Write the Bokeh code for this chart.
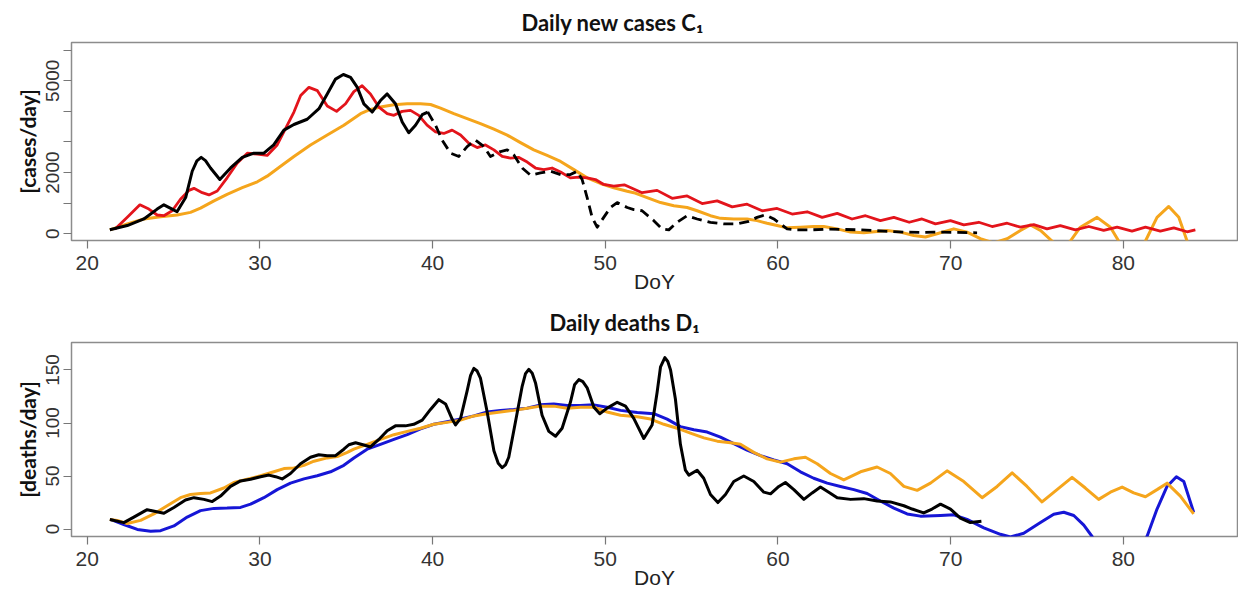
from bokeh.plotting import figure
from bokeh.models import Range1d, FixedTicker, Title
from bokeh.layouts import column
from bokeh.embed import file_html
from bokeh.resources import INLINE

# ---------------- Daily new cases C1 ----------------
cases_obs_doy = [21.31, 22.32, 23.28, 24.05, 24.44, 24.92, 25.2, 25.7, 26.08, 26.35, 26.6, 26.85,
                 27.14, 27.68, 28.3, 28.98, 29.65, 30.23, 30.8, 31.39, 31.97, 32.74, 33.42, 33.9,
                 34.38, 34.83, 35.25, 35.64, 36.02, 36.5, 36.98, 37.37, 37.85, 38.24, 38.62, 39.01,
                 39.4, 39.72]
cases_obs = [129, 269, 484, 806, 946, 806, 720, 1183, 2043, 2380, 2495, 2390,
             2150, 1774, 2150, 2495, 2634, 2634, 2903, 3387, 3570, 3742, 4086, 4570,
             5054, 5204, 5108, 4785, 4246, 3977, 4354, 4569, 4246, 3655, 3300, 3547,
             3891, 3977]

cases_late_doy = [39.72, 40.17, 40.55, 41.04, 41.52, 42.0, 42.48, 42.97, 43.35, 43.93, 44.32, 44.7,
                  45.19, 45.67, 46.25, 46.83, 47.41, 47.98, 48.37, 48.66, 48.95, 49.24, 49.53, 49.91,
                  50.3, 50.69, 51.27, 51.65, 52.13, 52.81, 53.29, 53.68, 54.16, 54.74, 55.32, 56.09,
                  56.86, 57.64, 58.31, 58.79, 59.28, 59.76, 60.14, 60.53, 61.11, 61.88, 62.85, 63.81,
                  64.78, 65.55, 66.32, 67.29, 68.25, 69.02, 70.2, 71.53]
cases_late = [3977, 3547, 3063, 2633, 2526, 2848, 3063, 2848, 2526, 2687, 2741, 2580,
              2149, 1913, 1988, 2042, 1934, 1934, 2042, 1773, 1181, 536, 214, 536,
              859, 1020, 859, 790, 752, 429, 160, 128, 375, 590, 483, 375,
              321, 321, 407, 536, 622, 483, 321, 160, 128, 128, 150, 140,
              128, 107, 75, 54, 43, 54, 45, 32]

cases_red_doy = [21.6, 22.32, 23.05, 23.57, 24.05, 24.44, 24.92, 25.4, 25.89, 26.18, 26.66, 27.05,
                 27.53, 28.1, 28.69, 29.27, 29.85, 30.42, 31.0, 31.49, 31.97, 32.36, 32.84, 33.33,
                 33.9, 34.44, 34.96, 35.44, 35.92, 36.4, 36.89, 37.37, 37.76, 38.24, 38.72, 39.2,
                 39.68, 40.17, 40.65, 41.13, 41.62, 42.1, 42.58, 43.06, 43.55, 44.03, 44.51, 45.0,
                 45.48, 45.96, 46.44, 46.92, 47.41, 47.98, 48.47, 48.95, 49.43, 49.91, 50.49, 51.1,
                 52.13, 53.0, 53.87, 54.74, 55.61, 56.48, 57.35, 58.21, 59.08, 59.95, 60.82, 61.69,
                 62.56, 63.43, 64.29, 65.07, 65.93, 66.71, 67.6, 68.34, 69.12, 69.99, 70.76, 71.63,
                 72.4, 73.27, 74.04, 74.81, 75.58, 76.35, 77.22, 78.0, 78.86, 79.64, 80.5, 81.28,
                 82.14, 82.92, 83.69, 84.17]
cases_red = [150, 538, 946, 806, 613, 591, 753, 1129, 1419, 1484, 1344, 1269,
             1398, 1828, 2312, 2634, 2602, 2559, 2903, 3441, 3978, 4516, 4785, 4677,
             4172, 4000, 4247, 4645, 4838, 4569, 4139, 3924, 3870, 3999, 4031, 3870,
             3547, 3332, 3278, 3386, 3225, 2956, 2816, 2902, 2741, 2526, 2472, 2493,
             2343, 2149, 2096, 2149, 2020, 1827, 1850, 1827, 1773, 1612, 1558, 1600,
             1343, 1418, 1160, 1235, 988, 1074, 880, 966, 751, 827, 644, 719,
             537, 665, 483, 590, 429, 537, 376, 484, 323, 430, 290, 376,
             237, 344, 215, 301, 161, 269, 129, 237, 108, 215, 86, 215,
             86, 194, 65, 129]

cases_orange_doy = [21.31, 22.32, 23.28, 24.25, 25.21, 25.98, 26.56, 27.34, 28.1, 28.98, 29.85, 30.42,
                    31.2, 31.97, 32.93, 33.9, 34.86, 35.83, 36.4, 36.98, 37.76, 38.53, 39.3, 39.88,
                    40.46, 41.23, 42.0, 42.77, 43.55, 44.32, 45.09, 45.86, 46.63, 47.41, 48.18, 48.95,
                    49.72, 50.49, 51.27, 51.65, 52.42, 53.2, 53.97, 54.74, 55.32, 56.09, 56.67, 57.44,
                    58.21, 58.79, 59.37, 59.95, 60.53, 61.3, 62.07, 62.65, 63.43, 64.2, 64.97, 65.74,
                    66.32, 67.09, 67.86, 68.54, 69.21, 70.18, 70.95, 71.72, 72.49, 73.27, 74.04, 74.62,
                    75.2, 75.87, 76.4, 76.93, 77.51, 78.48, 79.25, 79.73, 80.5, 81.28, 81.95, 82.63,
                    83.21, 83.69, 84.17]
cases_orange = [129, 323, 484, 559, 613, 699, 839, 1075, 1290, 1505, 1699, 1882,
                2204, 2527, 2903, 3226, 3548, 3924, 4063, 4139, 4214, 4246, 4246, 4225,
                4106, 3924, 3762, 3601, 3418, 3225, 2977, 2741, 2558, 2364, 2096, 1827,
                1644, 1504, 1390, 1343, 1181, 1020, 913, 859, 752, 590, 504, 483,
                483, 429, 343, 268, 193, 214, 236, 236, 160, 54, 32, 75,
                107, 54, -54, -107, 0, 160, 54, -161, -300, -161, 108, 290,
                108, -237, -550, -237, 215, 537, 215, -237, -850, -237, 537, 892,
                537, -237, -900]

# ---------------- Daily deaths D1 ----------------
deaths_obs_doy = [21.31, 22.12, 22.7, 23.47, 23.96, 24.44, 25.02, 25.69, 26.18, 26.76, 27.24, 27.72,
                  28.3, 28.88, 29.46, 30.04, 30.52, 30.91, 31.29, 31.77, 32.35, 32.93, 33.41, 33.9,
                  34.38, 34.86, 35.15, 35.54, 36.02, 36.4, 36.89, 37.37, 37.85, 38.43, 38.91, 39.4,
                  39.88, 40.36, 40.75, 41.13, 41.33, 41.62, 42.0, 42.2, 42.39, 42.58, 42.77, 43.16,
                  43.55, 43.8, 44.03, 44.22, 44.41, 44.8, 45.19, 45.38, 45.57, 45.77, 45.96, 46.34,
                  46.73, 47.12, 47.5, 47.98, 48.22, 48.47, 48.7, 48.95, 49.34, 49.68, 50.11, 50.69,
                  51.17, 51.65, 52.23, 52.71, 53.0, 53.2, 53.45, 53.62, 53.78, 54.06, 54.35, 54.64,
                  54.84, 55.32, 55.7, 56.09, 56.52, 56.96, 57.44, 58.02, 58.6, 59.18, 59.57, 60.05,
                  60.43, 60.92, 61.5, 61.98, 62.46, 62.94, 63.43, 64.2, 64.97, 65.74, 66.51, 67.29,
                  67.77, 68.44, 68.92, 69.41, 69.99, 70.56, 71.14, 71.78]
deaths_obs = [9.1, 6.1, 11.3, 18.3, 16.5, 14.9, 20.4, 27.4, 29.6, 28.0, 25.9, 31.1,
              40.2, 45.4, 47.0, 49.4, 50.9, 49.4, 47.3, 52.4, 61.6, 67.7, 70.1, 69.2,
              69.2, 75.3, 79.5, 81.4, 79.3, 77.4, 84.5, 92.7, 97.3, 97.3, 98.8, 102.7,
              112.8, 122.0, 118.0, 103.7, 98.2, 104.3, 130.2, 145.0, 151.5, 149.0, 142.4, 110.4,
              73.8, 62.0, 57.9, 60.5, 67.7, 101.2, 134.8, 146.5, 150.6, 147.0, 137.8, 107.3,
              92.1, 87.5, 95.1, 119.5, 136.0, 140.9, 139.0, 133.2, 114.9, 108.8, 114.0, 119.5,
              115.9, 104.3, 85.4, 98.2, 128.7, 153.0, 161.6, 158.0, 150.0, 122.6, 79.9, 55.5,
              50.9, 55.5, 47.9, 32.6, 25.0, 32.6, 44.8, 50.0, 44.8, 34.8, 33.2, 40.2,
              43.9, 37.2, 28.0, 34.1, 39.6, 34.8, 29.6, 28.0, 28.7, 26.5, 25.6, 22.0,
              18.9, 15.2, 18.9, 23.5, 18.9, 10.4, 6.1, 7.3]

deaths_orange_doy = [21.31, 21.74, 22.32, 23.09, 23.86, 24.63, 25.4, 25.98, 26.56, 27.14, 27.91, 28.49,
                     29.27, 30.04, 30.81, 31.39, 31.97, 32.55, 33.13, 33.9, 34.48, 35.06, 35.44, 36.21,
                     36.98, 37.76, 38.53, 39.3, 40.07, 40.84, 41.62, 42.39, 43.16, 43.93, 44.7, 45.48,
                     46.25, 47.02, 47.79, 48.56, 49.34, 50.11, 50.88, 51.85, 52.62, 53.39, 54.16, 54.93,
                     55.71, 56.48, 57.25, 57.83, 58.6, 59.37, 60.14, 60.92, 61.59, 62.27, 63.04, 63.81,
                     64.78, 65.74, 66.51, 67.29, 68.06, 68.83, 69.79, 70.76, 71.82, 72.69, 73.56, 74.42,
                     75.29, 76.16, 77.03, 77.8, 78.57, 79.25, 79.93, 80.6, 81.28, 81.95, 82.53, 83.3,
                     84.07]
deaths_orange = [9.1, 8.2, 5.2, 8.2, 14.3, 22.0, 29.6, 32.6, 33.5, 34.1, 38.7, 43.9,
                 47.0, 50.3, 54.0, 57.0, 57.6, 60.1, 64.0, 67.1, 68.3, 72.3, 75.3, 79.9,
                 84.5, 89.0, 92.1, 95.1, 98.8, 100.6, 102.7, 106.7, 108.8, 110.4, 111.9, 114.0,
                 115.9, 115.9, 114.0, 114.9, 114.9, 110.4, 107.3, 105.8, 103.7, 98.8, 95.1, 90.5,
                 86.0, 82.9, 81.4, 79.9, 72.3, 66.2, 63.1, 66.2, 67.7, 61.6, 52.4, 46.3,
                 54.0, 58.5, 52.4, 40.2, 36.5, 43.3, 54.9, 44.8, 29.6, 40.2, 53.0, 40.2,
                 25.6, 37.2, 48.8, 38.7, 28.0, 34.8, 39.6, 34.1, 30.5, 37.2, 43.3, 31.1,
                 14.3]

deaths_blue_doy = [21.35, 22.12, 22.9, 23.67, 24.25, 25.02, 25.79, 26.56, 27.34, 28.1, 28.88, 29.46,
                   30.23, 31.0, 31.77, 32.55, 33.32, 34.09, 34.86, 35.44, 36.21, 36.98, 37.76, 38.53,
                   39.3, 40.07, 40.84, 41.62, 42.39, 43.16, 43.93, 44.7, 45.48, 46.25, 47.02, 47.79,
                   48.56, 49.34, 50.11, 50.88, 51.85, 52.81, 53.58, 54.35, 55.13, 55.9, 56.67, 57.44,
                   58.21, 58.99, 59.76, 60.53, 61.3, 62.07, 62.85, 63.62, 64.39, 65.16, 65.93, 66.71,
                   67.48, 68.25, 69.41, 70.18, 70.95, 71.92, 72.88, 73.46, 74.23, 75.2, 75.97, 76.55,
                   77.13, 77.71, 78.19, 78.8, 79.8, 80.8, 81.37, 81.95, 82.53, 83.07, 83.5, 84.07]
deaths_blue = [9.1, 4.3, -0.3, -2.1, -1.5, 3.0, 11.3, 17.4, 19.5, 19.8, 20.4, 23.5,
               29.6, 37.2, 43.3, 47.3, 50.3, 54.0, 60.1, 67.0, 75.3, 79.9, 84.5, 89.0,
               94.5, 98.8, 101.2, 103.7, 106.7, 110.4, 111.9, 112.8, 114.0, 117.1, 118.0, 116.5,
               116.5, 117.1, 114.9, 111.9, 109.8, 108.8, 103.7, 96.6, 93.6, 91.5, 86.6, 80.5,
               74.4, 69.2, 65.2, 61.6, 54.0, 47.9, 43.3, 40.2, 37.2, 33.5, 26.5, 19.8,
               14.3, 12.2, 12.8, 13.4, 9.1, 1.2, -4.9, -7.5, -4.0, 6.1, 14.0, 15.9,
               12.8, 3.7, -7.0, -25.0, -40.0, -25.0, -7.0, 18.9, 40.2, 49.4, 44.8, 15.9]

x_ticks = [20, 30, 40, 50, 60, 70, 80]
cases_ticks = [0, 1000, 2000, 3000, 4000, 5000, 6000]
cases_tick_labels = {1000: "", 3000: "", 4000: "", 6000: ""}
deaths_ticks = [0, 50, 100, 150]

RED = "#e3141b"
ORANGE = "#f5a51c"
BLUE = "#1616d6"
BLACK = "#000000"
TITLE_FONT = "Lato"
TICK_FONT = "Liberation Sans"


def make_fig(height, top, bottom, yr, yticks, overrides, ylabel, title, title_offset):
    p = figure(width=1238, height=height, x_range=Range1d(19.09, 86.61),
               y_range=Range1d(*yr), output_backend="svg", toolbar_location=None,
               title=None, min_border_left=71, min_border_right=1,
               min_border_top=top, min_border_bottom=bottom)
    p.xgrid.visible = False
    p.ygrid.visible = False
    p.outline_line_color = "#8c8c8c"
    p.outline_line_width = 1.5
    p.background_fill_color = "white"
    p.border_fill_color = "white"
    for ax in (p.xaxis[0], p.yaxis[0]):
        ax.axis_line_color = None
        ax.major_tick_line_color = "#777777"
        ax.major_tick_line_width = 1.2
        ax.major_tick_out = 8
        ax.major_tick_in = 0
        ax.minor_tick_line_color = None
        ax.major_label_text_font = TICK_FONT
        ax.major_label_text_color = "#333333"
    xa = p.xaxis[0]
    xa.ticker = FixedTicker(ticks=x_ticks)
    xa.major_label_text_font_size = "21px"
    xa.major_label_standoff = 7
    xa.axis_label = "DoY"
    xa.axis_label_text_font = TICK_FONT
    xa.axis_label_text_font_style = "normal"
    xa.axis_label_text_font_size = "21px"
    xa.axis_label_text_color = "#222222"
    xa.axis_label_standoff = -3
    ya = p.yaxis[0]
    ya.ticker = FixedTicker(ticks=yticks)
    ya.major_label_overrides = overrides
    ya.major_label_orientation = "parallel"
    ya.major_label_text_font_size = "19px"
    ya.major_label_standoff = 4
    ya.axis_label = ylabel
    ya.axis_label_text_font = TITLE_FONT
    ya.axis_label_text_font_style = "bold"
    ya.axis_label_text_font_size = "21px"
    ya.axis_label_text_color = "#111111"
    ya.axis_label_standoff = 4
    p.add_layout(Title(text=title, align="left", offset=title_offset,
                       text_font=TITLE_FONT, text_font_size="22px",
                       text_font_style="bold", text_color="#111111", standoff=13), "above")
    return p


# top panel
p1 = make_fig(300, 40, 60, (-220, 6250), cases_ticks, cases_tick_labels, "[cases/day]",
              "Daily new cases C\u2081", 450)
p1.line(cases_orange_doy, cases_orange, line_color=ORANGE, line_width=3, line_join="round")
p1.line(cases_red_doy, cases_red, line_color=RED, line_width=2.8, line_join="round")
p1.line(cases_obs_doy, cases_obs, line_color=BLACK, line_width=3, line_join="round")
p1.line(cases_late_doy, cases_late, line_color=BLACK, line_width=2.8, line_dash="10 6",
        line_join="round")

# bottom panel
p2 = make_fig(296, 36, 60, (-7.0, 175.9), deaths_ticks, {}, "[deaths/day]",
              "Daily deaths D\u2081", 478)
p2.line(deaths_blue_doy, deaths_blue, line_color=BLUE, line_width=3, line_join="round")
p2.line(deaths_orange_doy, deaths_orange, line_color=ORANGE, line_width=3, line_join="round")
p2.line(deaths_obs_doy, deaths_obs, line_color=BLACK, line_width=3, line_join="round")

layout = column(p1, p2, spacing=0)
open("out.html", "w").write(file_html(layout, INLINE))
